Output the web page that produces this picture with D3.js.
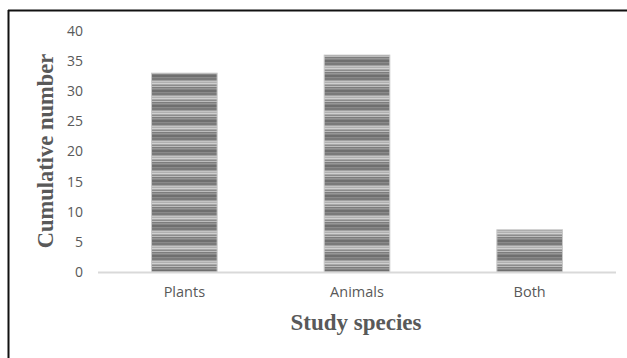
<!DOCTYPE html>
<html>
<head>
<meta charset="utf-8">
<script src="https://cdn.jsdelivr.net/npm/d3@7"></script>
<style>
  html, body { margin: 0; padding: 0; background: #fff; }
  svg { display: block; }
</style>
</head>
<body>
<svg id="chart" width="627" height="358"></svg>
<script>
// Study species counts
const categories = ["Plants", "Animals", "Both"];
const values = [33, 36, 7];
const yTicks = [0, 5, 10, 15, 20, 25, 30, 35, 40];

const svg = d3.select("#chart");
const W = 627, H = 358;
const margin = { left: 98, right: 11, top: 31, bottom: 86 };

svg.append("rect").attr("width", W).attr("height", H).attr("fill", "#fff");

// striped gray fill for the bars
const defs = svg.append("defs");
const pat = defs.append("pattern")
  .attr("id", "stripes")
  .attr("patternUnits", "userSpaceOnUse")
  .attr("width", 8).attr("height", 15);
const bands = [
  ["#6f6f6f", 2], ["#8a8a8a", 1], ["#7a7a7a", 2], ["#a0a0a0", 1],
  ["#c4c4c4", 1], ["#b0b0b0", 1], ["#d0d0d0", 1], ["#a8a8a8", 1],
  ["#8c8c8c", 1], ["#bdbdbd", 1], ["#7d7d7d", 1], ["#969696", 1], ["#858585", 1]
];
let yy = 0;
bands.forEach(([c, h]) => {
  pat.append("rect").attr("x", 0).attr("y", yy).attr("width", 8).attr("height", h).attr("fill", c);
  yy += h;
});

const x = d3.scaleBand()
  .domain(categories)
  .range([margin.left, W - margin.right])
  .paddingInner(0.62)
  .paddingOuter(0.31);

const y = d3.scaleLinear()
  .domain([0, 40])
  .range([H - margin.bottom, margin.top]);

// bars
svg.append("g").selectAll("rect")
  .data(categories)
  .join("rect")
  .attr("x", d => x(d))
  .attr("y", (d, i) => y(values[i]))
  .attr("width", x.bandwidth())
  .attr("height", (d, i) => y(0) - y(values[i]))
  .attr("fill", "url(#stripes)")
  .attr("stroke", "#c8c8c8")
  .attr("stroke-width", 1);

// baseline
svg.append("line")
  .attr("x1", margin.left).attr("x2", W - margin.right)
  .attr("y1", y(0) + 0.5).attr("y2", y(0) + 0.5)
  .attr("stroke", "#d9d9d9").attr("stroke-width", 2);

// y axis labels
const yAxis = d3.axisLeft(y).tickValues(yTicks).tickSize(0).tickPadding(0);
const gy = svg.append("g").attr("transform", "translate(83,0)").call(yAxis);
gy.select(".domain").remove();
gy.selectAll("text")
  .attr("font-family", "'Open Sans', sans-serif")
  .attr("font-size", 14)
  .attr("fill", "#595959");

// x axis labels
const xAxis = d3.axisBottom(x).tickSize(0).tickPadding(0);
const gx = svg.append("g").attr("transform", `translate(0,${y(0) + 15})`).call(xAxis);
gx.select(".domain").remove();
gx.selectAll("text")
  .attr("font-family", "'Open Sans', sans-serif")
  .attr("font-size", 14.5)
  .attr("fill", "#595959");

// axis titles
svg.append("text")
  .attr("x", 356).attr("y", 330)
  .attr("text-anchor", "middle")
  .attr("font-family", "'Liberation Serif', 'Times New Roman', serif")
  .attr("font-weight", "bold")
  .attr("font-size", 23)
  .attr("fill", "#595959")
  .text("Study species");

svg.append("text")
  .attr("transform", "translate(53,151) rotate(-90)")
  .attr("text-anchor", "middle")
  .attr("font-family", "'Liberation Serif', 'Times New Roman', serif")
  .attr("font-weight", "bold")
  .attr("font-size", 22.5)
  .attr("fill", "#595959")
  .text("Cumulative number");

// frame lines along the top and left edges
svg.append("line").attr("x1", 8).attr("x2", W).attr("y1", 10.5).attr("y2", 10.5)
  .attr("stroke", "#111").attr("stroke-width", 2);
svg.append("line").attr("x1", 8.5).attr("x2", 8.5).attr("y1", 10).attr("y2", H)
  .attr("stroke", "#111").attr("stroke-width", 2);
</script>
</body>
</html>
